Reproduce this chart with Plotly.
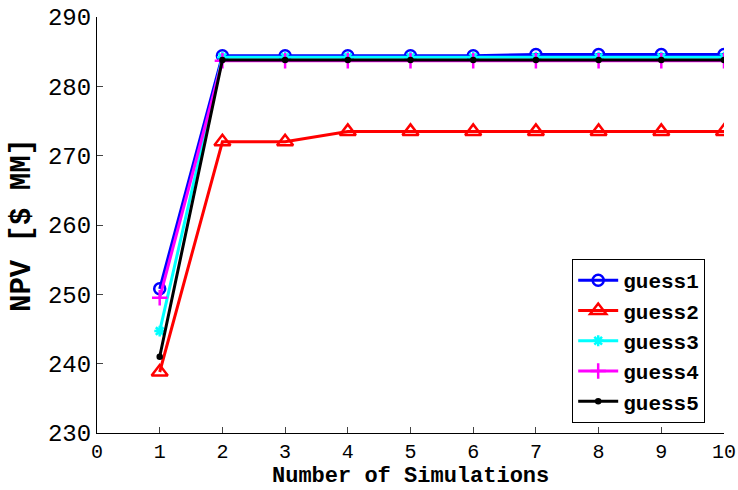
import plotly.graph_objects as go

sims = [1, 2, 3, 4, 5, 6, 7, 8, 9, 10]
guess1 = [250.8, 284.4, 284.4, 284.4, 284.4, 284.4, 284.6, 284.6, 284.6, 284.6]
guess2 = [238.8, 272.0, 272.0, 273.5, 273.5, 273.5, 273.5, 273.5, 273.5, 273.5]
guess3 = [244.7, 284.2, 284.2, 284.2, 284.2, 284.2, 284.2, 284.2, 284.2, 284.2]
guess4 = [249.5, 283.7, 283.7, 283.7, 283.7, 283.7, 283.7, 283.7, 283.7, 283.7]
guess5 = [241.0, 283.8, 283.8, 283.8, 283.8, 283.8, 283.8, 283.8, 283.8, 283.8]
names = ["guess1", "guess2", "guess3", "guess4", "guess5"]
colors = ["#0000FF", "#FF0000", "#00FFFF", "#FF00FF", "#000000"]
symbols = ["circle-open", "triangle-up-open", "asterisk-open", "cross-thin-open", "circle"]
msizes = [11, 14, 9, 11, 4]
x_title = "Number of Simulations"
y_title = "NPV [$ MM]"

FONT = "Liberation Mono"

fig = go.Figure()
for name, ys, c, s, ms in zip(names, [guess1, guess2, guess3, guess4, guess5], colors, symbols, msizes):
    fig.add_trace(go.Scatter(
        x=sims, y=ys, name="<b>" + name + "</b>", mode="lines+markers",
        line=dict(color=c, width=3),
        marker=dict(symbol=s, size=ms, color=c, line=dict(color=c, width=2.5)),
    ))

fig.update_layout(
    width=738, height=490,
    margin=dict(l=97, r=14, t=17, b=57),
    plot_bgcolor="white", paper_bgcolor="white",
    font=dict(family=FONT, size=20, color="black"),
    showlegend=True,
    legend=dict(
        x=0.97, y=0.024, xanchor="right", yanchor="bottom",
        bgcolor="white", bordercolor="black", borderwidth=1,
        font=dict(family=FONT, size=21, color="black"),
        itemwidth=40,
    ),
    annotations=[dict(
        text="<b>" + x_title + "</b>", xref="paper", yref="paper",
        x=0.5, y=0, xanchor="center", yanchor="bottom", yshift=-57,
        showarrow=False, borderpad=0,
        font=dict(family=FONT, size=22, color="black"),
    )],
)
fig.update_xaxes(
    range=[0, 10], tickmode="array", tickvals=list(range(0, 11)),
    ticks="inside", ticklen=6, tickcolor="#444", showline=True, linecolor="black",
    linewidth=1, mirror=False, showgrid=False, zeroline=False, automargin=False,
    tickfont=dict(family=FONT, size=20, color="black"),
    tickprefix="<b>", ticksuffix="</b>",
)
fig.update_yaxes(
    range=[230, 290], tickmode="array", tickvals=list(range(230, 291, 10)),
    ticks="inside", ticklen=6, tickcolor="#444", showline=True, linecolor="black",
    linewidth=1, mirror=False, showgrid=False, zeroline=False, automargin=False,
    tickfont=dict(family=FONT, size=24, color="black"),
    tickprefix="<b>", ticksuffix="</b>",
    title=dict(text="<b>" + y_title + "</b>", standoff=8,
               font=dict(family=FONT, size=29, color="black")),
)

fig.write_html("out.html")
